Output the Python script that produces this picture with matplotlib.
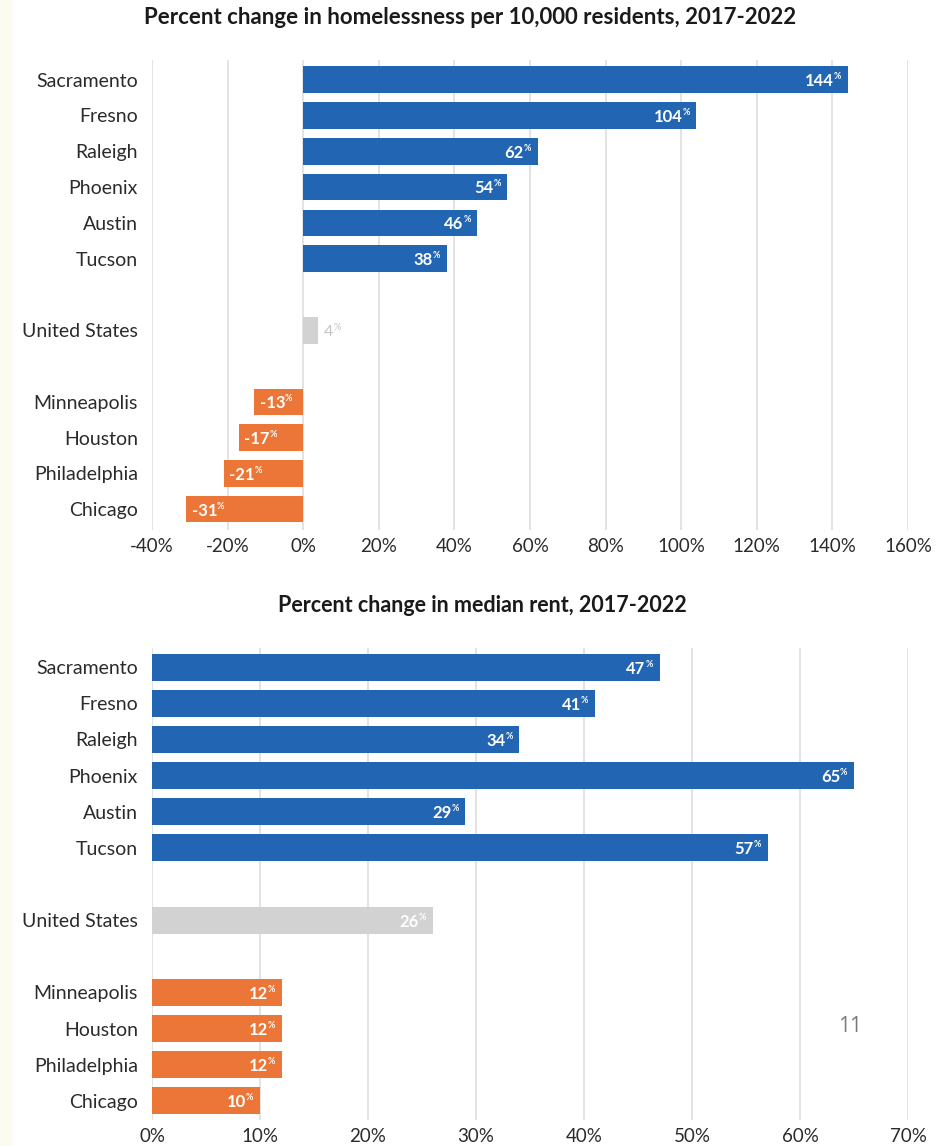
import matplotlib.pyplot as plt
import matplotlib.patches as mpatches

plt.rcParams['font.family'] = ['Lato', 'DejaVu Sans']

cities = ['Sacramento', 'Fresno', 'Raleigh', 'Phoenix', 'Austin', 'Tucson',
          'United States',
          'Minneapolis', 'Houston', 'Philadelphia', 'Chicago']
homeless_change = [144, 104, 62, 54, 46, 38, 4, -13, -17, -21, -31]
rent_change = [47, 41, 34, 65, 29, 57, 26, 12, 12, 12, 10]
groups = ['up', 'up', 'up', 'up', 'up', 'up', 'us', 'down', 'down', 'down', 'down']

top_title = 'Percent change in homelessness per 10,000 residents, 2017-2022'
bottom_title = 'Percent change in median rent, 2017-2022'
top_ticks = [-40, -20, 0, 20, 40, 60, 80, 100, 120, 140, 160]
bottom_ticks = [0, 10, 20, 30, 40, 50, 60, 70]

# row slots: gap before and after the national figure
rows = [0, 1, 2, 3, 4, 5, 7, 9, 10, 11, 12]

colors = {'up': '#2165b3', 'us': '#d2d2d2', 'down': '#ec7638'}
grid_color = '#dedede'
text_color = '#2b2b2b'

fig = plt.figure(figsize=(9.47, 11.46), dpi=100)
fig.patches.append(mpatches.Rectangle((0, 0), 12 / 947, 1, transform=fig.transFigure,
                                      color='#fbfbf1', zorder=0))


def draw_panel(ax, values, ticks, us_outside, ylim):
    ax.set_xlim(ticks[0], ticks[-1])
    ax.set_ylim(*ylim)
    for t in ticks:
        ax.axvline(t, color=grid_color, lw=1.2, zorder=0)
    for r, v, g in zip(rows, values, groups):
        ax.barh(r, v, height=0.74, color=colors[g], zorder=2)
        if g == 'us' and us_outside:
            t = ax.annotate(f'{v}', xy=(v, r), xytext=(4, -1), textcoords='offset points',
                            ha='left', va='center', fontsize=11.5, color='#c4c4c4')
            ax.annotate('%', xy=(1.0, 0.5), xycoords=t, ha='left', va='bottom',
                        fontsize=6.5, color='#c4c4c4')
        elif v >= 0:
            t = ax.annotate(f'{v}', xy=(v, r), xytext=(-10, -1), textcoords='offset points',
                            ha='right', va='center', fontsize=12, fontweight='bold',
                            color='white')
            ax.annotate('%', xy=(1.0, 0.5), xycoords=t, ha='left', va='bottom',
                        fontsize=6.5, fontweight='bold', color='white')
        else:
            t = ax.annotate(f'{v}', xy=(v, r), xytext=(4, -1), textcoords='offset points',
                            ha='left', va='center', fontsize=12, fontweight='bold',
                            color='white')
            ax.annotate('%', xy=(1.0, 0.5), xycoords=t, ha='left', va='bottom',
                        fontsize=6.5, fontweight='bold', color='white')
    ax.set_yticks(rows)
    ax.set_yticklabels(cities)
    ax.set_xticks(ticks)
    ax.set_xticklabels([f'{t}%' for t in ticks])
    ax.tick_params(axis='both', length=0, colors=text_color)
    ax.tick_params(axis='y', pad=10, labelsize=14)
    ax.tick_params(axis='x', pad=6, labelsize=13.5)
    for s in ax.spines.values():
        s.set_visible(False)


ax1 = fig.add_axes([152 / 947, 1 - 530 / 1146, 756 / 947, 470 / 1146])
draw_panel(ax1, homeless_change, top_ticks, True, (12.58, -0.55))

ax2 = fig.add_axes([152 / 947, 1 - 1120 / 1146, 756 / 947, 472 / 1146])
draw_panel(ax2, rent_change, bottom_ticks, False, (12.53, -0.53))

fig.text(470 / 947, 1 - 18 / 1146, top_title, ha='center', va='center',
         fontsize=16, fontweight='bold', color='#1a1a1a')
fig.text(482 / 947, 1 - 605 / 1146, bottom_title, ha='center', va='center',
         fontsize=15.5, fontweight='bold', color='#1a1a1a')

fig.text(850 / 947, 1 - 1027 / 1146, '11', ha='center', va='center',
         fontsize=15, color='#7a7a7a', family=['Open Sans', 'DejaVu Sans'])

fig.savefig('out.png', dpi=100)
